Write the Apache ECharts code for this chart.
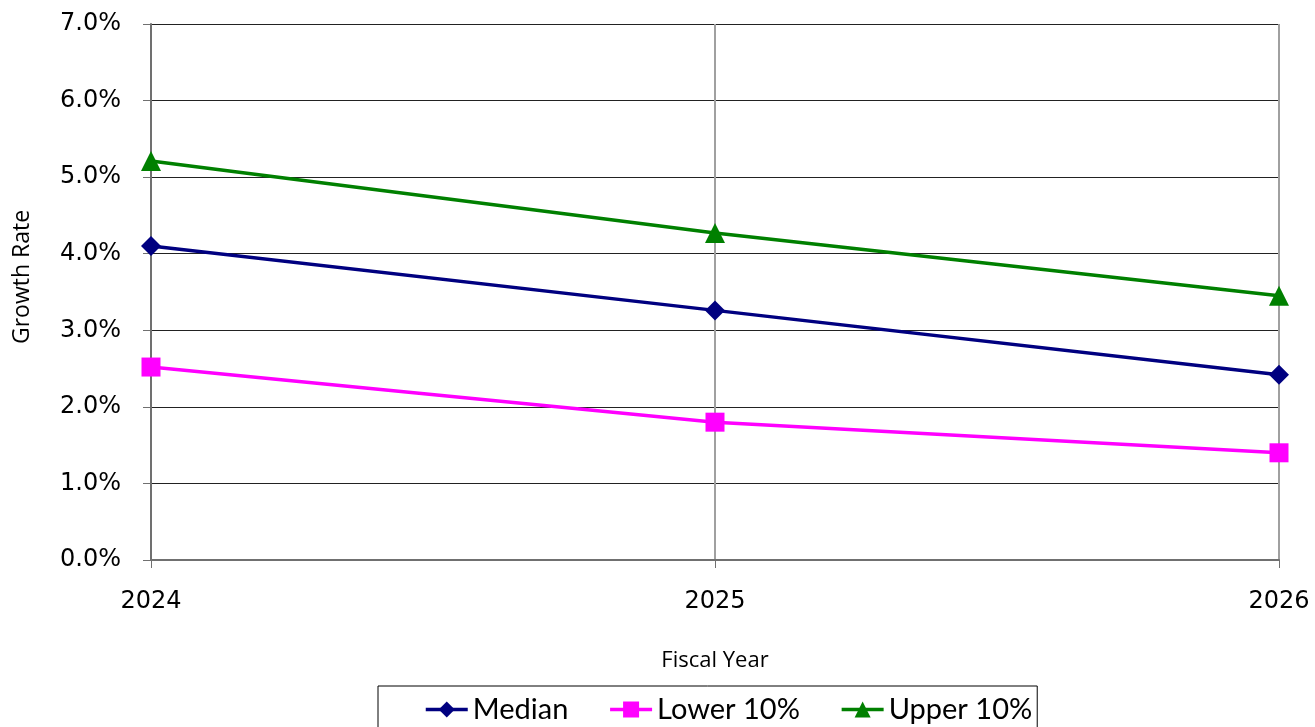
<!DOCTYPE html>
<html>
<head>
<meta charset="utf-8">
<script src="https://cdn.jsdelivr.net/npm/echarts@6/dist/echarts.min.js"></script>
<style>
  html, body { margin: 0; padding: 0; background: #fff; }
  #chart { width: 1315px; height: 727px; }
</style>
</head>
<body>
<div id="chart"></div>
<script>
// Fiscal years on the x axis
const years = ['2024', '2025', '2026'];
// Projected growth rates, in percent
const median = [4.10, 3.26, 2.42];
const lower10 = [2.52, 1.80, 1.40];
const upper10 = [5.21, 4.27, 3.45];

const chart = echarts.init(document.getElementById('chart'));

function lineSeries(name, data, color, symbol, size) {
  return {
    name: name,
    type: 'line',
    data: data,
    symbol: symbol,
    symbolSize: size,
    showAllSymbol: true,
    lineStyle: { color: color, width: 3.5 },
    itemStyle: { color: color },
    emphasis: { disabled: true }
  };
}

chart.setOption({
  animation: false,
  backgroundColor: '#fff',
  grid: { left: 151, right: 36, top: 24, bottom: 167, containLabel: false, outerBoundsMode: 'none' },
  // y-axis title, placed a little above the plot's middle
  graphic: [{
    type: 'text',
    x: 22,
    y: 277,
    rotation: Math.PI / 2,
    style: {
      text: 'Growth Rate',
      fontFamily: 'Open Sans',
      fontSize: 23,
      fill: '#000',
      align: 'center',
      verticalAlign: 'middle'
    }
  }],
  legend: {
    left: 378,
    top: 686,
    padding: [9, 5, 20, 46],
    itemGap: 40,
    itemWidth: 42,
    itemHeight: 20,
    borderColor: '#000',
    borderWidth: 1,
    lineStyle: { width: 3.5 },
    textStyle: { fontFamily: 'Lato', fontSize: 29, color: '#000' },
    data: ['Median', 'Lower 10%', 'Upper 10%']
  },
  xAxis: {
    type: 'category',
    data: years,
    boundaryGap: false,
    name: 'Fiscal Year',
    nameLocation: 'middle',
    nameGap: 90,
    nameTextStyle: { fontFamily: 'Open Sans', fontSize: 22, color: '#000' },
    axisLine: { lineStyle: { color: '#707070', width: 2 } },
    axisTick: { show: true, length: 8, lineStyle: { color: '#707070' } },
    axisLabel: { fontFamily: 'DejaVu Sans', fontSize: 24, color: '#000', margin: 30 },
    splitLine: { show: true, lineStyle: { color: '#a0a0a0', width: 2 } }
  },
  yAxis: {
    type: 'value',
    min: 0,
    max: 7,
    interval: 1,
    axisLine: { show: true, lineStyle: { color: '#707070', width: 2 } },
    axisTick: { show: true, length: 8, lineStyle: { color: '#707070' } },
    axisLabel: {
      fontFamily: 'DejaVu Sans', fontSize: 24, color: '#000', margin: 30,
      formatter: v => v.toFixed(1) + '%'
    },
    splitLine: { show: true, lineStyle: { color: '#222', width: 1 } }
  },
  series: [
    lineSeries('Median', median, '#000080', 'diamond', 20),
    lineSeries('Lower 10%', lower10, '#ff00ff', 'rect', 19),
    lineSeries('Upper 10%', upper10, '#008000', 'triangle', 20)
  ]
});
</script>
</body>
</html>
